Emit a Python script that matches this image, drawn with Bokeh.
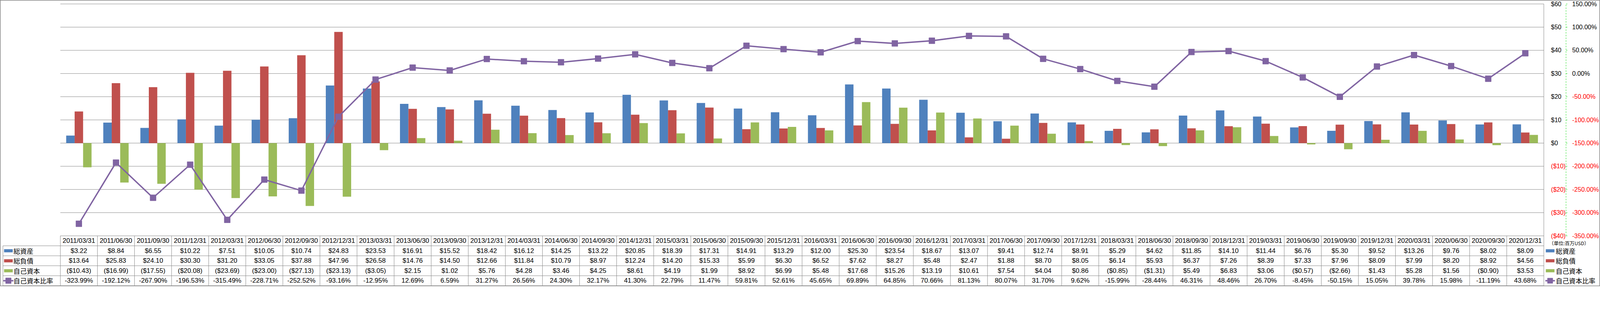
from bokeh.plotting import figure
from bokeh.models import ColumnDataSource, Range1d
from bokeh.transform import dodge
from bokeh.core.properties import value
from bokeh.embed import file_html
from bokeh.resources import INLINE

# ---------------- data ----------------
dates = ["2011/03/31", "2011/06/30", "2011/09/30", "2011/12/31",
         "2012/03/31", "2012/06/30", "2012/09/30", "2012/12/31",
         "2013/03/31", "2013/06/30", "2013/09/30", "2013/12/31",
         "2014/03/31", "2014/06/30", "2014/09/30", "2014/12/31",
         "2015/03/31", "2015/06/30", "2015/09/30", "2015/12/31",
         "2016/03/31", "2016/06/30", "2016/09/30", "2016/12/31",
         "2017/03/31", "2017/06/30", "2017/09/30", "2017/12/31",
         "2018/03/31", "2018/06/30", "2018/09/30", "2018/12/31",
         "2019/03/31", "2019/06/30", "2019/09/30", "2019/12/31",
         "2020/03/31", "2020/06/30", "2020/09/30", "2020/12/31"]
total_assets = [3.22, 8.84, 6.55, 10.22, 7.51, 10.05, 10.74, 24.83,
                23.53, 16.91, 15.52, 18.42, 16.12, 14.25, 13.22, 20.85,
                18.39, 17.31, 14.91, 13.29, 12.00, 25.30, 23.54, 18.67,
                13.07, 9.41, 12.74, 8.91, 5.29, 4.62, 11.85, 14.10,
                11.44, 6.76, 5.30, 9.52, 13.26, 9.76, 8.02, 8.09]
total_liabilities = [13.64, 25.83, 24.10, 30.30, 31.20, 33.05, 37.88, 47.96,
                     26.58, 14.76, 14.50, 12.66, 11.84, 10.79, 8.97, 12.24,
                     14.20, 15.33, 5.99, 6.30, 6.52, 7.62, 8.27, 5.48,
                     2.47, 1.88, 8.70, 8.05, 6.14, 5.93, 6.37, 7.26,
                     8.39, 7.33, 7.96, 8.09, 7.99, 8.20, 8.92, 4.56]
equity = [-10.43, -16.99, -17.55, -20.08, -23.69, -23.00, -27.13, -23.13,
          -3.05, 2.15, 1.02, 5.76, 4.28, 3.46, 4.25, 8.61,
          4.19, 1.99, 8.92, 6.99, 5.48, 17.68, 15.26, 13.19,
          10.61, 7.54, 4.04, 0.86, -0.85, -1.31, 5.49, 6.83,
          3.06, -0.57, -2.66, 1.43, 5.28, 1.56, -0.90, 3.53]
equity_ratio = [-323.99, -192.12, -267.90, -196.53, -315.49, -228.71, -252.52, -93.16,
                -12.95, 12.69, 6.59, 31.27, 26.56, 24.30, 32.17, 41.30,
                22.79, 11.47, 59.81, 52.61, 45.65, 69.89, 64.85, 70.66,
                81.13, 80.07, 31.70, 9.62, -15.99, -28.44, 46.31, 48.46,
                26.70, -8.45, -50.15, 15.05, 39.78, 15.98, -11.19, 43.68]
series_names = ["総資産", "総負債", "自己資本", "自己資本比率"]
series_colors = ["#4F81BD", "#C0504D", "#9BBB59", "#8064A2"]
usd_ticks = [-40, -30, -20, -10, 0, 10, 20, 30, 40, 50, 60]
pct_ticks = [-350, -300, -250, -200, -150, -100, -50, 0, 50, 100, 150]
unit_label = "（単位:百万USD）"


def fmt_usd(v):
    return f"${v:.2f}" if v >= 0 else f"(${-v:.2f})"


def fmt_usd_tick(v):
    return f"${v:d}" if v >= 0 else f"(${-v:d})"


def fmt_pct(v):
    return f"{v:.2f}%"


# ---------------- layout (design pixels of the target picture) ----------------
S = 1.125                # CSS px -> picture px of the screenshot
DW, DH = 4683, 838       # figure size in picture px
FL = 176                 # left edge of the category area
FW = 4342                # width of the category area
N = len(dates)
CAT_PX = FW / N
CH_TOP, CH_BOT = 11, 690  # top / bottom gridline
N_ROWS = 5
ROW_PX = 29.2
TB_BOT = CH_BOT + N_ROWS * ROW_PX
GRID = "#868686"
NUM_FONT = value("Liberation Sans")
AX_FONT = value("Liberation Sans")
JP_FONT = value("Noto Sans CJK JP")


def fs(px):
    return f"{px / S:.1f}px"


def sp(px):
    return px / S


USD_PX = (CH_BOT - CH_TOP) / (usd_ticks[-1] - usd_ticks[0])
y0 = usd_ticks[0] - (DH - CH_BOT) / USD_PX
y1 = usd_ticks[-1] + CH_TOP / USD_PX
k = (pct_ticks[-1] - pct_ticks[0]) / (usd_ticks[-1] - usd_ticks[0])
p0 = pct_ticks[0] + (y0 - usd_ticks[0]) * k
p1 = pct_ticks[0] + (y1 - usd_ticks[0]) * k
t0 = -(DH - TB_BOT) / ROW_PX
t1 = N_ROWS + CH_BOT / ROW_PX
x0 = -0.5 - FL / CAT_PX
x1 = x0 + DW / CAT_PX
XR = N - 0.5


def dx(px):
    return px / CAT_PX


p = figure(width=round(DW / S), height=round(DH / S), sizing_mode="scale_width",
           output_backend="svg", toolbar_location=None,
           x_range=Range1d(x0, x1), y_range=Range1d(y0, y1),
           x_axis_location=None, y_axis_location=None,
           min_border_left=0, min_border_right=0, min_border_top=0, min_border_bottom=0,
           outline_line_color="#888888", outline_line_width=2,
           background_fill_color="white", border_fill_color="white")
p.title = None
p.extra_y_ranges = {"pct": Range1d(p0, p1), "tbl": Range1d(t0, t1)}
p.grid.visible = False

# ---- gridlines of the chart ----
p.segment(x0=[-0.5] * len(usd_ticks), y0=usd_ticks, x1=[XR] * len(usd_ticks), y1=usd_ticks,
          line_color=GRID, line_width=1)
p.segment(x0=[XR], y0=[usd_ticks[0]], x1=[XR], y1=[usd_ticks[-1]], line_color=GRID, line_width=1)

# ---- bars ----
src = ColumnDataSource(dict(x=list(range(N)), assets=total_assets,
                            liab=total_liabilities, eq=equity, ratio=equity_ratio))
BW = 0.228
for off, col, c in [(-BW, "assets", series_colors[0]), (0.0, "liab", series_colors[1]),
                    (BW, "eq", series_colors[2])]:
    p.vbar(x=dodge("x", off, range=p.x_range), top=col, bottom=0, width=BW,
           fill_color=c, line_color=None, source=src)

# ---- equity ratio line ----
p.line("x", "ratio", y_range_name="pct", line_color=series_colors[3], line_width=sp(4),
       source=src)
p.scatter("x", "ratio", y_range_name="pct", marker="square", size=sp(17),
          fill_color=series_colors[3], line_color=series_colors[3], source=src)

# ---- right-hand axes ----
p.text(x=[XR + dx(21)] * len(usd_ticks), y=usd_ticks, text=[fmt_usd_tick(t) for t in usd_ticks],
       text_color=["red" if t < 0 else "black" for t in usd_ticks], text_align="left",
       text_baseline="middle", text_font=AX_FONT, text_font_size=fs(18))
ax_x = XR + dx(65)
p.segment(x0=[ax_x], y0=[pct_ticks[0]], x1=[ax_x], y1=[pct_ticks[-1]], y_range_name="pct",
          line_color="#22DD22", line_dash="4 3", line_width=1)
p.segment(x0=[ax_x] * len(pct_ticks), y0=pct_ticks, x1=[ax_x + dx(4)] * len(pct_ticks),
          y1=pct_ticks, y_range_name="pct", line_color="#22DD22", line_width=1)
p.text(x=[XR + dx(83)] * len(pct_ticks), y=pct_ticks, y_range_name="pct",
       text=[f"{t:.2f}%" for t in pct_ticks],
       text_color=["red" if t < 0 else "black" for t in pct_ticks], text_align="left",
       text_baseline="middle", text_font=AX_FONT, text_font_size=fs(18))

# ---------------- data table ----------------
XL = x0 + dx(8)
hy = list(range(N_ROWS))
p.segment(x0=[XL] * len(hy), y0=hy, x1=[XR] * len(hy), y1=hy, y_range_name="tbl",
          line_color=GRID, line_width=1)
vx = [i - 0.5 for i in range(N + 1)]
p.segment(x0=vx, y0=[0] * len(vx), x1=vx, y1=[N_ROWS] * len(vx), y_range_name="tbl",
          line_color=GRID, line_width=1)
p.segment(x0=[XL], y0=[0], x1=[XL], y1=[N_ROWS - 1], y_range_name="tbl",
          line_color=GRID, line_width=1)

cx, cy, ct = [], [], []
rows = [(4.5, dates),
        (3.5, [fmt_usd(v) for v in total_assets]),
        (2.5, [fmt_usd(v) for v in total_liabilities]),
        (1.5, [fmt_usd(v) for v in equity]),
        (0.5, [fmt_pct(v) for v in equity_ratio])]
for yy, texts in rows:
    for i, t in enumerate(texts):
        cx.append(i)
        cy.append(yy)
        ct.append(t)
p.text(x=cx, y=cy, text=ct, y_range_name="tbl", text_align="center", text_baseline="middle",
       text_font=NUM_FONT, text_font_size=fs(19), text_color="black")

# left legend column of the table
ly = [3.5, 2.5, 1.5, 0.5]
sw_l = x0 + dx(24)
p.rect(x=[sw_l] * 3, y=ly[:3], width=sp(25), height=sp(9), width_units="screen",
       height_units="screen", y_range_name="tbl", fill_color=series_colors[:3], line_color=None)
p.segment(x0=[sw_l - dx(15)], y0=[0.5], x1=[sw_l + dx(15)], y1=[0.5], y_range_name="tbl",
          line_color=series_colors[3], line_width=sp(4))
p.scatter(x=[sw_l], y=[0.5], y_range_name="tbl", marker="square", size=sp(16),
          fill_color=series_colors[3], line_color=series_colors[3])
p.text(x=[x0 + dx(39)] * 4, y=ly, text=series_names, y_range_name="tbl", text_align="left",
       text_baseline="middle", text_font=JP_FONT, text_font_size=fs(19), text_color="black")

# right legend
sw_r = XR + dx(18.5)
p.rect(x=[sw_r] * 3, y=ly[:3], width=sp(25), height=sp(9), width_units="screen",
       height_units="screen", y_range_name="tbl", fill_color=series_colors[:3], line_color=None)
p.segment(x0=[sw_r - dx(14)], y0=[0.5], x1=[sw_r + dx(14)], y1=[0.5], y_range_name="tbl",
          line_color=series_colors[3], line_width=sp(4))
p.scatter(x=[sw_r], y=[0.5], y_range_name="tbl", marker="square", size=sp(15),
          fill_color=series_colors[3], line_color=series_colors[3])
p.text(x=[XR + dx(35)] * 4, y=ly, text=series_names, y_range_name="tbl", text_align="left",
       text_baseline="middle", text_font=JP_FONT, text_font_size=fs(19), text_color="black")
p.text(x=[XR + dx(15)], y=[4.27], text=[unit_label], y_range_name="tbl", text_align="left",
       text_baseline="middle", text_font=JP_FONT, text_font_size=fs(14), text_color="black")

open("out.html", "w").write(file_html(p, INLINE))
